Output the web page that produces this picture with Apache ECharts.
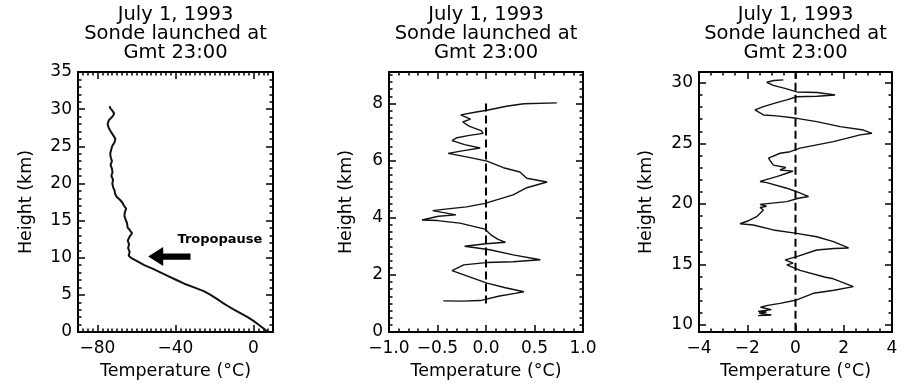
<!DOCTYPE html>
<html><head><meta charset="utf-8">
<script src="https://cdn.jsdelivr.net/npm/echarts@6/dist/echarts.min.js"></script>
<style>html,body{margin:0;padding:0;background:#fff}#c{width:910px;height:391px}</style>
</head><body><div id="c"></div>
<script>
// ---------- text ----------
const titleLines = ['July 1, 1993', 'Sonde launched at', 'Gmt 23:00'];
const xAxisName = 'Temperature (\u00B0C)';
const yAxisName = 'Height (km)';
const annotationText = 'Tropopause';

// ---------- panel 1 : temperature profile ----------
const p1Height = [0, 0.5, 1.0, 1.5, 2.0, 2.5, 3.0, 3.5, 4.0, 4.5, 5.0, 5.5, 6.0, 6.5, 7.0, 7.5, 8.0, 8.5, 9.0, 9.5,
  10.0, 10.3, 10.8, 11.3, 11.8, 12.3, 12.8, 13.3, 13.7, 14.1, 14.6, 15.1, 15.6, 16.1, 16.6, 17.0, 17.4, 17.8, 18.2, 18.6,
  19.0, 19.5, 20.0, 20.5, 21.0, 21.5, 22.0, 22.5, 23.0, 23.5, 24.0, 24.5, 25.0, 25.5, 26.0, 26.5, 27.0, 27.5, 28.0, 28.5,
  29.0, 29.4, 29.8, 30.1, 30.4];
const p1Temp = [7.5, 5.0, 2.5, 0.0, -3.0, -6.5, -10, -13.2, -16.2, -19, -22, -25.5, -30.5, -35.5, -39.5, -43.5, -47.5, -51.5, -56, -59.5,
  -63, -64, -63.5, -64.3, -63.8, -64.5, -63.6, -62.3, -63.4, -64.6, -64.8, -65.5, -66.2, -66, -65.3, -66.4, -67.2, -68.5, -70.2, -71,
  -71.2, -72, -72.4, -72, -72.9, -72.3, -72.6, -73.3, -72.6, -73.2, -73.5, -73, -72.5, -71.3, -70.8, -72, -73.2, -74.3, -74.8, -74.2,
  -72.3, -71.4, -72.4, -73.4, -73.8];
const p1XLabels = [-80, -40, 0];
const p1YLabels = [0, 5, 10, 15, 20, 25, 30, 35];
const arrowTipTemp = -54, arrowTailTemp = -32.3, arrowHeight = 10.15;
const annotationTemp = -39, annotationHeight = 12.4;

// ---------- panel 2 : 0-8 km perturbation ----------
const p2Temp = [-0.44, -0.25, -0.06, 0.14, 0.30, 0.39, 0.20, 0.01, -0.17, -0.35, -0.23, 0.0, 0.28, 0.56, 0.28, 0.04, -0.22, 0.0, 0.20, 0.12,
  0.05, -0.01, -0.27, -0.50, -0.66, -0.49, -0.31, -0.55, -0.42, -0.20, -0.01, 0.28, 0.42, 0.63, 0.42, 0.35, 0.18, 0.01, -0.20, -0.39,
  -0.23, -0.06, -0.22, -0.35, -0.30, -0.17, -0.03, -0.05, -0.17, -0.24, -0.16, -0.26, -0.10, 0.01, 0.21, 0.39, 0.73];
const p2Height = [1.09, 1.08, 1.10, 1.26, 1.35, 1.41, 1.55, 1.71, 1.93, 2.15, 2.35, 2.43, 2.46, 2.53, 2.70, 2.88, 3.00, 3.09, 3.14, 3.25,
  3.40, 3.60, 3.81, 3.90, 3.92, 4.05, 4.10, 4.25, 4.30, 4.38, 4.50, 4.80, 5.05, 5.25, 5.38, 5.60, 5.75, 5.98, 6.13, 6.25,
  6.35, 6.44, 6.56, 6.70, 6.80, 6.88, 6.95, 7.05, 7.20, 7.35, 7.45, 7.60, 7.70, 7.76, 7.90, 7.99, 8.02];
const p2ZeroHeights = [1.0, 8.08];
const p2XLabels = [-1.0, -0.5, 0.0, 0.5, 1.0];
const p2YLabels = [0, 2, 4, 6, 8];

// ---------- panel 3 : 10-30 km perturbation ----------
const p3Temp = [-1.55, -1.0, -1.5, -1.2, -1.55, -1.0, -1.45, -1.15, -0.64, 0.05, 0.74, 1.6, 2.4, 1.57, 1.2, 0.19, -0.36, -0.1, -0.43, 0.05,
  0.88, 1.6, 2.2, 1.57, 0.88, 0.05, -0.92, -1.75, -2.3, -1.95, -1.61, -1.33, -1.47, -1.2, -1.47, -0.36, 0.12, 0.54, 0.3, 0.05,
  -0.36, -1.19, -1.47, -0.78, -0.36, -0.1, -0.64, -0.4, -0.92, -1.12, -0.64, -0.22, 0.19, 1.57, 2.68, 3.17, 2.82, 1.85, 0.88, 0.05,
  -0.78, -1.33, -1.68, -1.33, -0.78, -0.36, 0.05, 0.9, 1.64, 0.9, 0.05, -0.36, -0.92, -1.19, -0.9, -0.5];
const p3Height = [10.75, 10.8, 10.95, 11.05, 11.1, 11.25, 11.45, 11.6, 11.77, 12.05, 12.6, 12.85, 13.15, 13.8, 13.95, 14.5, 14.95, 15.1, 15.36, 15.63,
  16.18, 16.3, 16.35, 16.87, 17.28, 17.56, 17.84, 18.25, 18.35, 18.6, 18.94, 19.49, 19.7, 19.8, 19.95, 20.18, 20.46, 20.6, 20.8, 21.0,
  21.29, 21.75, 21.85, 22.25, 22.53, 22.7, 22.8, 23.0, 23.2, 23.77, 24.18, 24.31, 24.6, 25.14, 25.7, 25.83, 26.1, 26.38, 26.8, 27.07,
  27.27, 27.35, 27.76, 28.04, 28.37, 28.59, 28.85, 28.9, 29.0, 29.2, 29.25, 29.5, 29.8, 30.05, 30.2, 30.25];
const p3ZeroHeights = [9.5, 30.9];
const p3XLabels = [-4, -2, 0, 2, 4];
const p3YLabels = [10, 15, 20, 25, 30];

// ---------- layout ----------
const FONT = 'DejaVu Sans';
const panels = [
  { grid: { left: 78, top: 72, width: 195, height: 260 },
    x: { min: -90, max: 10, majors: p1XLabels, minorStep: 2.5, labels: p1XLabels, dec: 0 },
    y: { min: 0, max: 35, majors: p1YLabels, minorStep: 1, labels: p1YLabels, dec: 0, gap: 43 } },
  { grid: { left: 389, top: 72, width: 194, height: 260 },
    x: { min: -1, max: 1, majors: p2XLabels, minorStep: 0.1, labels: p2XLabels, dec: 1 },
    y: { min: 0, max: 9.1, majors: p2YLabels, minorStep: 0.25, labels: p2YLabels, dec: 0, gap: 34 } },
  { grid: { left: 699, top: 72, width: 193, height: 260 },
    x: { min: -4, max: 4, majors: p3XLabels, minorStep: 0.5, labels: p3XLabels, dec: 0 },
    y: { min: 9.4, max: 30.9, majors: p3YLabels, minorStep: 1, labels: p3YLabels, dec: 0, gap: 44 } }
];

function minorTicks(min, max, step, majors) {
  const out = [];
  const start = Math.ceil(min / step - 1e-9) * step;
  for (let v = start; v <= max + 1e-9; v += step) {
    const r = Math.round(v * 1000) / 1000;
    if (!majors.some(m => Math.abs(m - r) < 1e-6)) out.push(r);
  }
  return out;
}
function fmt(dec) {
  return v => (v < 0 ? '\u2212' : '') + Math.abs(v).toFixed(dec);
}

const xAxes = [], yAxes = [], grids = [], refs = [];
panels.forEach((p, gi) => {
  grids.push(p.grid);
  const ref = {};
  ['x', 'y'].forEach(dim => {
    const a = p[dim];
    const minors = minorTicks(a.min, a.max, a.minorStep, a.majors);
    const list = dim === 'x' ? xAxes : yAxes;
    const posMain = dim === 'x' ? 'bottom' : 'left';
    const posOpp = dim === 'x' ? 'top' : 'right';
    const base = (pos, showLine, ticks, len) => ({
      type: 'value', gridIndex: gi, position: pos, min: a.min, max: a.max,
      splitLine: { show: false },
      axisLine: { show: showLine, onZero: false, lineStyle: { color: '#000', width: 2 } },
      axisTick: { show: true, inside: true, customValues: ticks, length: len, lineStyle: { color: '#000', width: 1.5 } },
      axisLabel: { show: false }
    });
    const main = base(posMain, true, a.majors, 7);
    main.axisLabel = { show: true, customValues: a.labels, formatter: fmt(a.dec), color: '#000',
      fontSize: 17, fontFamily: FONT, margin: dim === 'x' ? 8 : 6 };
    main.name = dim === 'x' ? xAxisName : yAxisName;
    main.nameLocation = 'middle';
    main.nameGap = dim === 'x' ? 30 : a.gap;
    main.nameTextStyle = { color: '#000', fontSize: 17.5, fontFamily: FONT };
    ref[dim] = list.length;
    list.push(main);
    list.push(base(posMain, false, minors, 3.5));
    list.push(base(posOpp, true, a.majors, 7));
    list.push(base(posOpp, false, minors, 3.5));
  });
  refs.push(ref);
});

const toPairs = (xs, ys) => xs.map((v, i) => [v, ys[i]]);
const lineSeries = (gi, data, width) => ({
  type: 'line', xAxisIndex: refs[gi].x, yAxisIndex: refs[gi].y, data: data,
  showSymbol: false, symbol: 'none', silent: true,
  lineStyle: { color: '#111', width: width }
});
const zeroSeries = (gi, hs) => ({
  type: 'line', xAxisIndex: refs[gi].x, yAxisIndex: refs[gi].y,
  data: hs.map(h => [0, h]), showSymbol: false, symbol: 'none', silent: true,
  lineStyle: { color: '#000', width: 2, type: [8, 4] }
});

const series = [
  lineSeries(0, toPairs(p1Temp, p1Height), 2),
  lineSeries(1, toPairs(p2Temp, p2Height), 1.4),
  zeroSeries(1, p2ZeroHeights),
  lineSeries(2, toPairs(p3Temp, p3Height), 1.4),
  zeroSeries(2, p3ZeroHeights),
  {
    type: 'custom', xAxisIndex: refs[0].x, yAxisIndex: refs[0].y, silent: true,
    data: [[arrowTipTemp, arrowHeight, arrowTailTemp, annotationTemp, annotationHeight]],
    encode: { x: [0, 2, 3], y: [1, 4] },
    renderItem: (params, api) => {
      const tip = api.coord([api.value(0), api.value(1)]);
      const tail = api.coord([api.value(2), api.value(1)]);
      const txt = api.coord([api.value(3), api.value(4)]);
      const hl = 15, hh = 9.5, sh = 3.2;
      const [x, y] = tip;
      return { type: 'group', children: [
        { type: 'polygon', shape: { points: [[x, y], [x + hl, y - hh], [x + hl, y - sh], [tail[0], y - sh],
          [tail[0], y + sh], [x + hl, y + sh], [x + hl, y + hh]] }, style: { fill: '#000' } },
        { type: 'text', x: txt[0], y: txt[1], style: { text: annotationText, fill: '#000', fontSize: 13,
          fontWeight: 'bold', fontFamily: FONT, align: 'left', verticalAlign: 'middle' } }
      ] };
    }
  }
];

const titles = panels.map(p => ({
  text: titleLines.join('\n'), left: p.grid.left + p.grid.width / 2, top: 5, padding: 0,
  textAlign: 'center',
  textStyle: { color: '#000', fontSize: 19.5, fontWeight: 'normal', fontFamily: FONT, lineHeight: 19 }
}));

const chart = echarts.init(document.getElementById('c'), null, { renderer: 'canvas' });
chart.setOption({
  animation: false,
  backgroundColor: '#fff',
  title: titles,
  grid: grids,
  xAxis: xAxes,
  yAxis: yAxes,
  series: series
});
</script>
</body></html>
